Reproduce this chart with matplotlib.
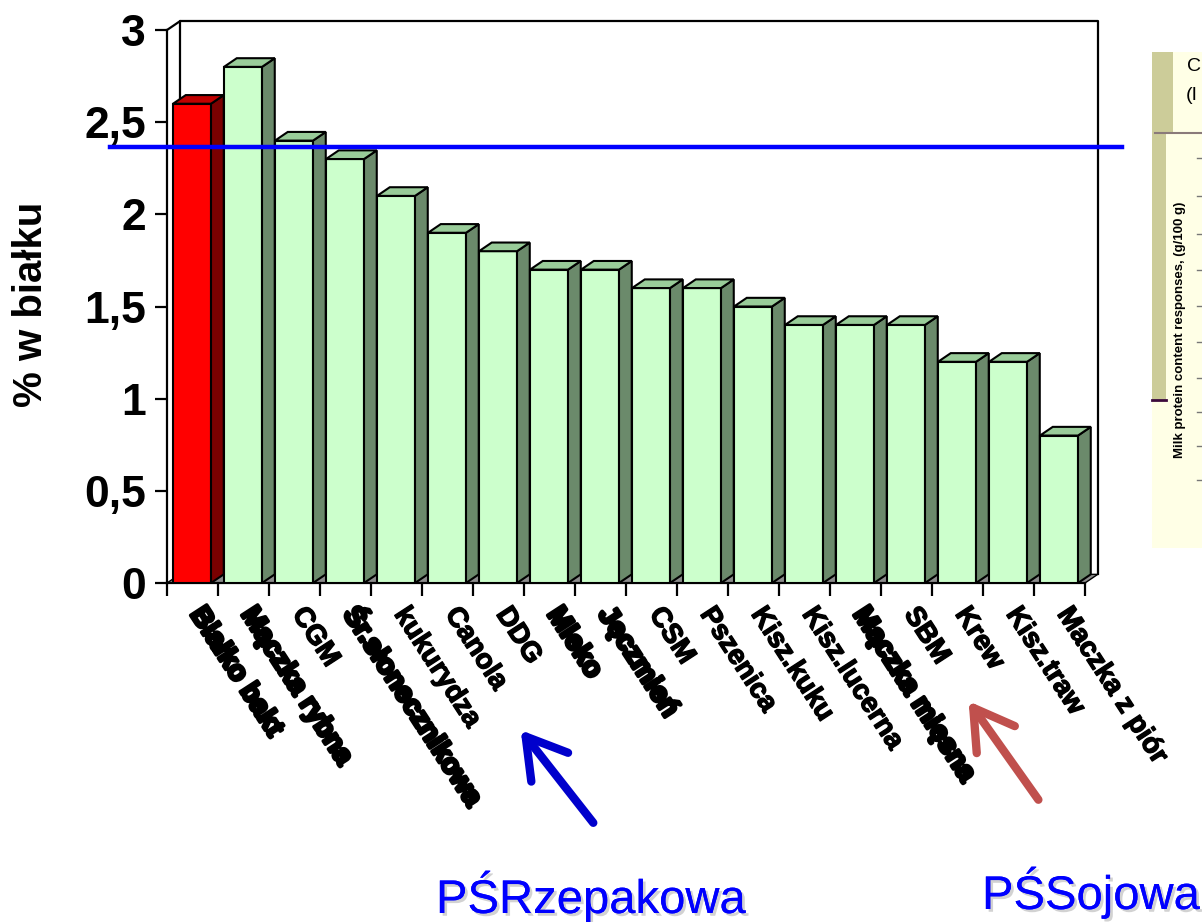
import matplotlib
matplotlib.use("Agg")
import matplotlib.pyplot as plt
from matplotlib.patches import Polygon, Rectangle, FancyArrowPatch
from matplotlib.ticker import FixedLocator, NullFormatter
from matplotlib.transforms import offset_copy
import matplotlib.patheffects as pe

plt.rcParams['font.family'] = ['Liberation Sans', 'DejaVu Sans']

# feed sources and milk protein response (% in protein)
feeds = ["Białko bakt", "Mączka rybna", "CGM", "Śr.słonecznikowa", "kukurydza",
         "Canola", "DDG", "Mleko", "Jęczmień", "CSM", "Pszenica", "Kisz.kuku",
         "Kisz.lucerna", "Mączka mięsna", "SBM", "Krew", "Kisz.traw", "Maczka z piór"]
values = [2.6, 2.8, 2.4, 2.3, 2.1, 1.9, 1.8, 1.7, 1.7, 1.6, 1.6, 1.5,
          1.4, 1.4, 1.4, 1.2, 1.2, 0.8]
smudged = ["Białko bakt", "Mączka rybna", "Śr.słonecznikowa", "Mleko",
           "Jęczmień", "Mączka mięsna"]
ref_level = 2.365
yticks = [0, 0.5, 1, 1.5, 2, 2.5, 3]
ytick_labels = ["0", "0,5", "1", "1,5", "2", "2,5", "3"]

W, H = 1202, 922
fig = plt.figure(figsize=(W / 100, H / 100), dpi=100)
fig.patch.set_facecolor("white")

def fx(px):
    return px / W

def fy(py):
    return 1 - py / H

ax = fig.add_axes([fx(167), fy(583), (1085 - 167) / W, (583 - 30) / H])
n = len(feeds)
ax.set_xlim(0, n)
ax.set_ylim(0, 3)
ax.set_facecolor("none")
for s in ["top", "right"]:
    ax.spines[s].set_visible(False)
for s in ["left", "bottom"]:
    ax.spines[s].set_linewidth(1.6)

# depth offset of the 3d look (data units)
dx, dy = 0.25, 0.047
bw = 0.745
x0 = 0.118

# floor + back walls
ax.add_patch(Polygon([(0, 0), (dx, dy), (n + dx, dy), (n, 0)], closed=True,
                     facecolor="#8c8c8c", edgecolor="black", lw=1.0, zorder=1, clip_on=False))
ax.plot([dx, dx, n + dx, n + dx], [dy, 3 + dy, 3 + dy, dy], color="black", lw=1.6,
        clip_on=False, zorder=1)
ax.plot([0, dx], [3, 3 + dy], color="black", lw=1.6, clip_on=False, zorder=1)

# bars
for i, (name, v) in enumerate(zip(feeds, values)):
    if i == 0:
        front, side, top = "#ff0000", "#7a0000", "#c00000"
    else:
        front, side, top = "#ccffcc", "#6b8a6b", "#99cc99"
    xl = i + x0
    ax.bar(xl, v, width=bw, align="edge", color=front, edgecolor="black", lw=1.5, zorder=3)
    xr = xl + bw
    ax.add_patch(Polygon([(xr, 0), (xr + dx, dy), (xr + dx, v + dy), (xr, v)], closed=True,
                         facecolor=side, edgecolor="black", lw=1.5, zorder=3, clip_on=False))
    ax.add_patch(Polygon([(xl, v), (xl + dx, v + dy), (xr + dx, v + dy), (xr, v)], closed=True,
                         facecolor=top, edgecolor="black", lw=1.5, zorder=3, clip_on=False))

# reference level line
ax.plot([-1.12, n + 0.73], [ref_level, ref_level], color="#0000ff", lw=3.2,
        clip_on=False, zorder=5)

# ticks
ax.set_yticks(yticks)
ax.set_yticklabels(ytick_labels, fontsize=32, fontweight="bold")
ax.tick_params(axis="y", direction="out", length=9, width=1.6, pad=6)
ax.xaxis.set_major_locator(FixedLocator(range(n + 1)))
ax.xaxis.set_major_formatter(NullFormatter())
ax.tick_params(axis="x", which="major", direction="out", length=9, width=1.6)

# category names, slanted below the axis
lab_tr = offset_copy(ax.transData, fig=fig, x=3, y=-27, units="dots")
for i, name in enumerate(feeds):
    t = ax.text(i + 0.5, 0, name, transform=lab_tr, rotation=-57, rotation_mode="anchor",
                ha="left", va="center", fontsize=20, fontweight="bold", clip_on=False)
    lw = 2.6 if name in smudged else 1.0
    t.set_path_effects([pe.withStroke(linewidth=lw, foreground="black")])

fig.text(fx(31), fy(304), "% w białku", rotation=90, ha="center", va="center",
         fontsize=29, fontweight="bold")

# arrows pointing at the two meals
shadow = [pe.withSimplePatchShadow(offset=(2, -2), shadow_rgbFace="gray", alpha=0.35), pe.Normal()]
fig.add_artist(FancyArrowPatch((fx(595), fy(825)), (fx(519), fy(728)), transform=fig.transFigure,
                               arrowstyle="->,head_length=1.0,head_width=0.6", mutation_scale=28,
                               color="#0000cc", lw=6, capstyle="round", joinstyle="round"))
fig.add_artist(FancyArrowPatch((fx(1040), fy(802)), (fx(967), fy(699)), transform=fig.transFigure,
                               arrowstyle="->,head_length=1.0,head_width=0.6", mutation_scale=28,
                               color="#c0504d", lw=6, capstyle="round", joinstyle="round"))
fig.text(fx(436), fy(913), "PŚRzepakowa", color="#0000ff", fontsize=34, ha="left",
         va="baseline", path_effects=shadow)
fig.text(fx(982), fy(909), "PŚSojowa", color="#0000ff", fontsize=34, ha="left",
         va="baseline", path_effects=shadow)

# side panel of a second chart, cut at the edge
fig.add_artist(Rectangle((fx(1152), fy(548)), fx(60), (548 - 52) / H, transform=fig.transFigure,
                         facecolor="#ffffe6", edgecolor="none"))
fig.add_artist(Rectangle((fx(1152), fy(133)), fx(21), (133 - 52) / H, transform=fig.transFigure,
                         facecolor="#cccc99", edgecolor="none"))
fig.add_artist(Rectangle((fx(1152), fy(400)), fx(14), (400 - 133) / H, transform=fig.transFigure,
                         facecolor="#cccc99", edgecolor="none"))
fig.add_artist(plt.Line2D([fx(1155), fx(1202)], [fy(133), fy(133)], transform=fig.transFigure,
                          color="#8a7a7a", lw=1.5))
fig.add_artist(plt.Line2D([fx(1152), fx(1166)], [fy(400), fy(400)], transform=fig.transFigure,
                          color="#3c0a3c", lw=2))
fig.text(fx(1187), fy(66), "C", fontsize=14, ha="left", va="center")
fig.text(fx(1186), fy(95), "(I", fontsize=14, ha="left", va="center")
fig.text(fx(1180), fy(330), "Milk protein content responses, (g/100 g)", rotation=90,
         fontsize=9.5, fontweight="bold", ha="center", va="center")
for yy in [158, 196, 234, 270, 306, 342, 378, 412, 446, 480]:
    fig.add_artist(plt.Line2D([fx(1197), fx(1202)], [fy(yy), fy(yy)], transform=fig.transFigure,
                              color="#777777", lw=1))

fig.savefig("out.png", dpi=100, facecolor="white")
